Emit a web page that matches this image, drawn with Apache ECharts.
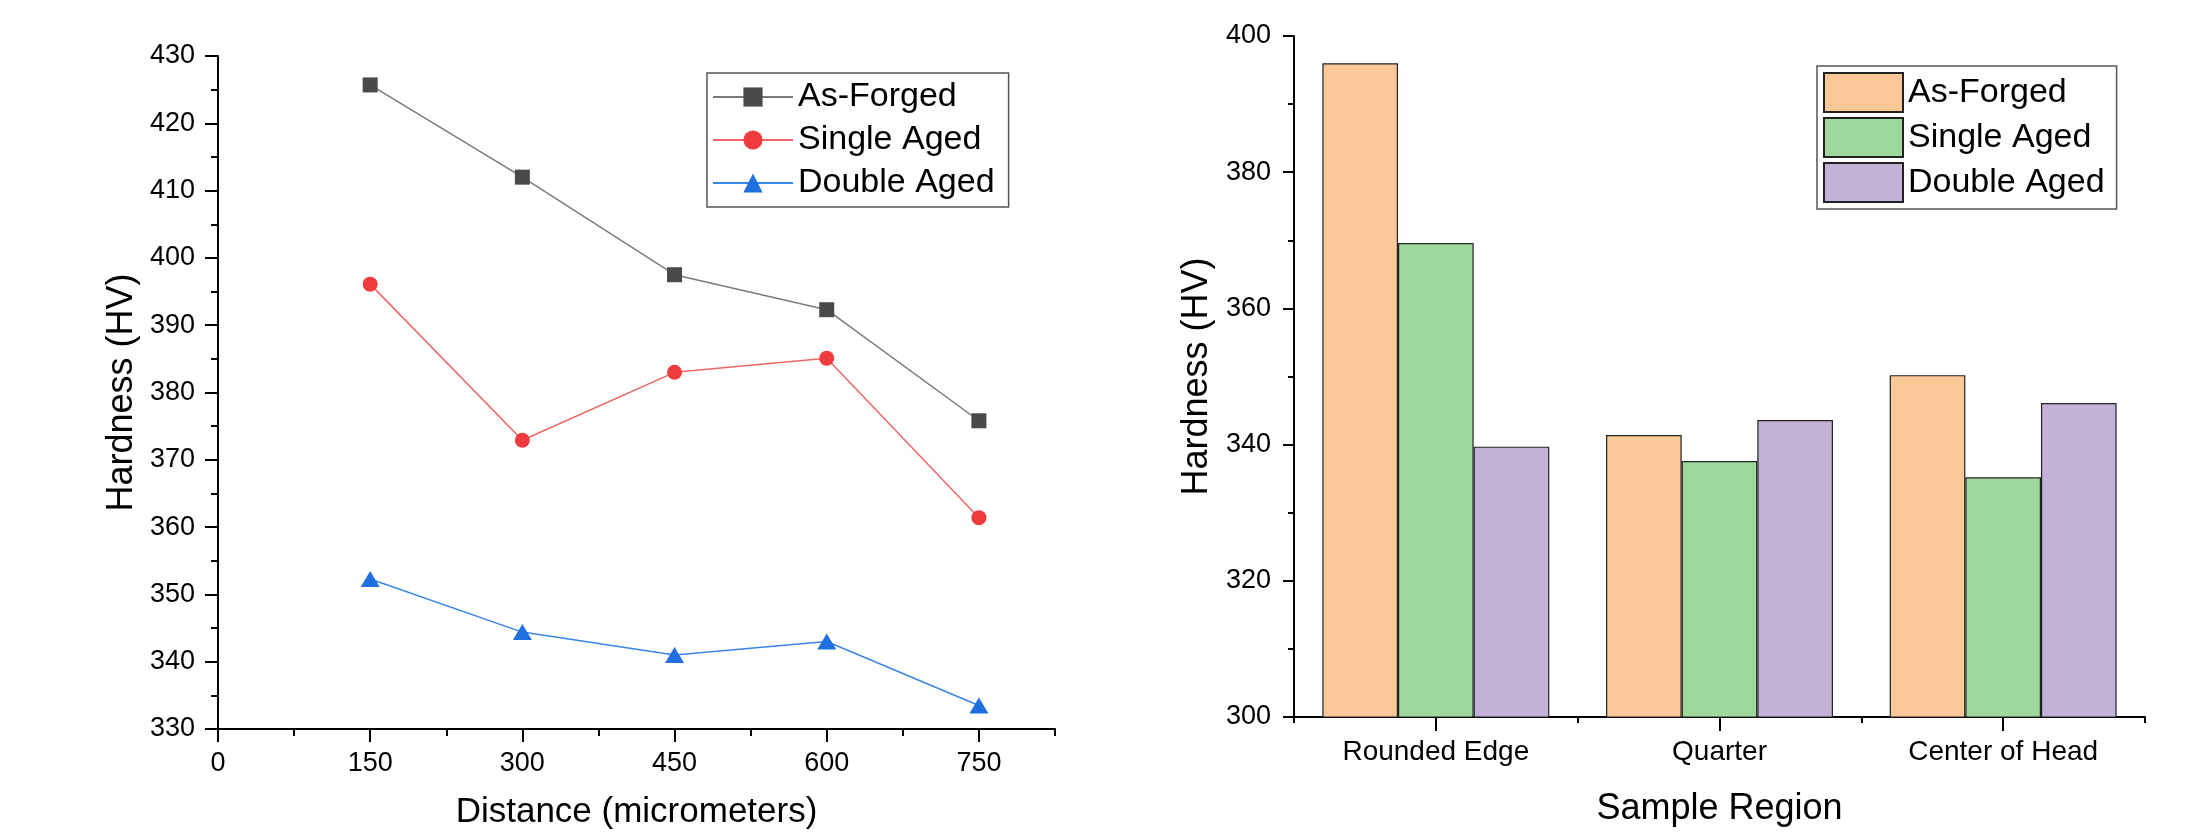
<!DOCTYPE html>
<html>
<head>
<meta charset="utf-8">
<script src="https://cdn.jsdelivr.net/npm/echarts@6/dist/echarts.min.js"></script>
<style>
html,body{margin:0;padding:0;background:#fff;}
#chart{width:2197px;height:832px;}
</style>
</head>
<body>
<div id="chart"></div>
<script>
// ---- Left chart data ----
const distances = [150, 300, 450, 600, 750];
const distanceTicks = [0, 150, 300, 450, 600, 750];
const asForgedLine = [425.7, 412.0, 397.5, 392.3, 375.8];
const singleAgedLine = [396.1, 372.9, 383.0, 385.1, 361.4];
const doubleAgedLine = [352.3, 344.4, 341.0, 343.0, 333.5];

// ---- Right chart data ----
const regions = ['Rounded Edge', 'Quarter', 'Center of Head'];
const asForgedBar = [396.0, 341.4, 350.2];
const singleAgedBar = [369.6, 337.6, 335.2];
const doubleAgedBar = [339.7, 343.6, 346.1];

const seriesNames = ['As-Forged', 'Single Aged', 'Double Aged'];

const FONT = "'Liberation Sans', Arial, sans-serif";
const AXIS_COLOR = '#000';

function pairs(xs, ys) { return xs.map((x, i) => [x, ys[i]]); }

const chart = echarts.init(document.getElementById('chart'), null, {renderer: 'canvas'});

const axisLineStyle = {show: true, lineStyle: {color: AXIS_COLOR, width: 2}};
const labelStyle = {color: '#000', fontFamily: FONT, fontSize: 27};
const nameStyle = {color: '#000', fontFamily: FONT, fontSize: 36};

const option = {
  animation: false,
  backgroundColor: '#fff',
  textStyle: {fontFamily: FONT},
  grid: [
    {left: 218, right: 1142, top: 56, bottom: 103, containLabel: false, outerBoundsMode: 'none'},
    {left: 1294, right: 52, top: 36, bottom: 115, containLabel: false, outerBoundsMode: 'none'}
  ],
  legend: [
    {
      data: seriesNames.map(n => ({name: n})),
      orient: 'vertical',
      left: 707, top: 73,
      padding: [6, 14, 6, 5],
      borderColor: '#555', borderWidth: 1.5,
      itemWidth: 80, itemHeight: 24, itemGap: 7,
      textStyle: {color: '#000', fontFamily: FONT, fontSize: 34, lineHeight: 36},
      selectedMode: false
    },
    {
      data: seriesNames.map(n => ({name: n + ' '})),
      orient: 'vertical',
      left: 1817, top: 66,
      padding: [6, 12, 6, 6],
      borderColor: '#555', borderWidth: 1.5,
      itemWidth: 79, itemHeight: 39, itemGap: 4,
      icon: 'rect',
      formatter: n => n.trim(),
      textStyle: {color: '#000', fontFamily: FONT, fontSize: 34, lineHeight: 39},
      selectedMode: false
    }
  ],
  xAxis: [
    {
      type: 'value', gridIndex: 0, min: 0, max: 825, interval: 150,
      name: 'Distance (micrometers)', nameLocation: 'middle', nameGap: 66,
      nameTextStyle: {...nameStyle, fontSize: 35},
      axisLine: axisLineStyle,
      axisTick: {show: true, length: 13, lineStyle: {color: AXIS_COLOR, width: 2}, customValues: distanceTicks},
      axisLabel: {show: true, margin: 21, customValues: distanceTicks, ...labelStyle},
      splitLine: {show: false}
    },
    {
      type: 'value', gridIndex: 0, min: 0, max: 825, interval: 75, position: 'bottom',
      axisLine: {show: false},
      axisTick: {show: true, length: 7, lineStyle: {color: AXIS_COLOR, width: 2}},
      axisLabel: {show: false},
      splitLine: {show: false}
    },
    {
      type: 'category', gridIndex: 1, data: regions, position: 'bottom',
      name: 'Sample Region', nameLocation: 'middle', nameGap: 74,
      nameTextStyle: nameStyle,
      axisLine: axisLineStyle,
      axisTick: {show: true, alignWithLabel: true, length: 14, lineStyle: {color: AXIS_COLOR, width: 2}},
      axisLabel: {show: true, margin: 21, ...labelStyle, fontSize: 28},
      splitLine: {show: false}
    },
    {
      type: 'category', gridIndex: 1, data: regions, position: 'bottom',
      axisLine: {show: false},
      axisTick: {show: true, alignWithLabel: false, length: 6, lineStyle: {color: AXIS_COLOR, width: 2}},
      axisLabel: {show: false},
      splitLine: {show: false}
    }
  ],
  yAxis: [
    {
      type: 'value', gridIndex: 0, min: 330, max: 430, interval: 10,
      name: 'Hardness (HV)', nameLocation: 'middle', nameGap: 78, nameRotate: 90,
      nameTextStyle: nameStyle,
      axisLine: axisLineStyle,
      axisTick: {show: true, length: 13, lineStyle: {color: AXIS_COLOR, width: 2}},
      minorTick: {show: true, splitNumber: 2, length: 7, lineStyle: {color: AXIS_COLOR, width: 2}},
      axisLabel: {show: true, margin: 23, ...labelStyle},
      splitLine: {show: false}
    },
    {
      type: 'value', gridIndex: 1, min: 300, max: 400, interval: 20,
      name: 'Hardness (HV)', nameLocation: 'middle', nameGap: 79, nameRotate: 90,
      nameTextStyle: nameStyle,
      axisLine: axisLineStyle,
      axisTick: {show: true, length: 11, lineStyle: {color: AXIS_COLOR, width: 2}},
      minorTick: {show: true, splitNumber: 2, length: 6, lineStyle: {color: AXIS_COLOR, width: 2}},
      axisLabel: {show: true, margin: 23, ...labelStyle},
      splitLine: {show: false}
    }
  ],
  series: [
    {
      name: seriesNames[0], type: 'line', xAxisIndex: 0, yAxisIndex: 0,
      data: pairs(distances, asForgedLine),
      symbol: 'rect', symbolSize: 15,
      itemStyle: {color: '#4a4a4a'},
      lineStyle: {color: '#7a7a7a', width: 1.5}
    },
    {
      name: seriesNames[1], type: 'line', xAxisIndex: 0, yAxisIndex: 0,
      data: pairs(distances, singleAgedLine),
      symbol: 'circle', symbolSize: 15,
      itemStyle: {color: '#ef3b3d'},
      lineStyle: {color: '#f06466', width: 1.5}
    },
    {
      name: seriesNames[2], type: 'line', xAxisIndex: 0, yAxisIndex: 0,
      data: pairs(distances, doubleAgedLine),
      symbol: 'triangle', symbolSize: [19, 16],
      itemStyle: {color: '#1f6fde'},
      lineStyle: {color: '#3a86e8', width: 1.5}
    },
    {
      name: seriesNames[0] + ' ', type: 'bar', xAxisIndex: 2, yAxisIndex: 1,
      data: asForgedBar, barGap: '0%', barCategoryGap: '20%',
      itemStyle: {color: '#fbc897', borderColor: '#222', borderWidth: 1.2}
    },
    {
      name: seriesNames[1] + ' ', type: 'bar', xAxisIndex: 2, yAxisIndex: 1,
      data: singleAgedBar, barGap: '0%', barCategoryGap: '20%',
      itemStyle: {color: '#9fd89b', borderColor: '#222', borderWidth: 1.2}
    },
    {
      name: seriesNames[2] + ' ', type: 'bar', xAxisIndex: 2, yAxisIndex: 1,
      data: doubleAgedBar, barGap: '0%', barCategoryGap: '20%',
      itemStyle: {color: '#c3b2d7', borderColor: '#222', borderWidth: 1.2}
    }
  ]
};
chart.setOption(option);
</script>
</body>
</html>
